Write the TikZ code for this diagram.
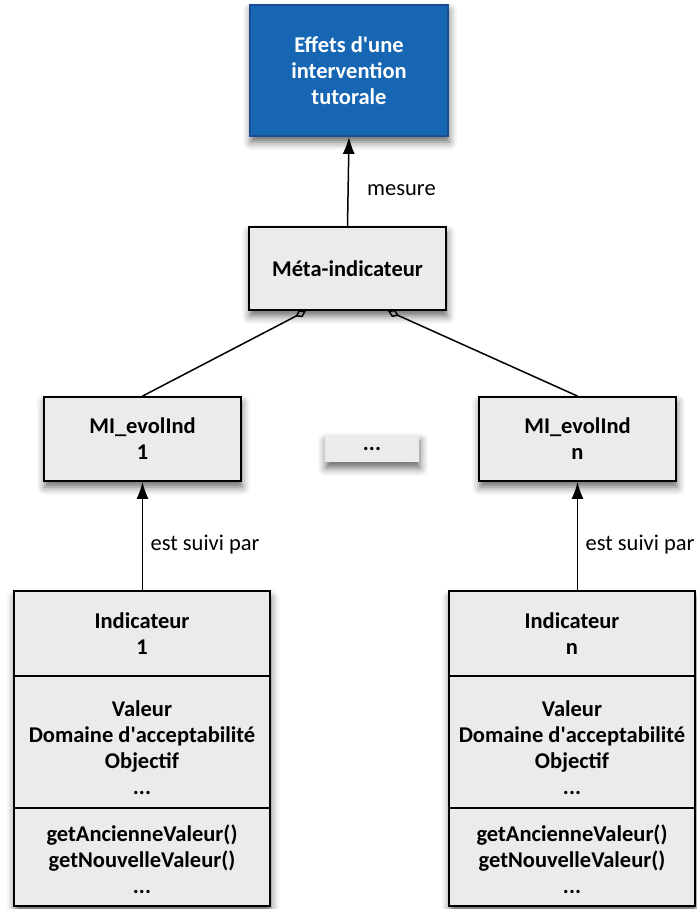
\documentclass[tikz,border=0pt]{standalone}
\usepackage{fontspec}
\setmainfont{Carlito}
\usetikzlibrary{arrows.meta}
\usetikzlibrary{positioning}
\usetikzlibrary{calc}
\usetikzlibrary{shadows.blur}
\definecolor{boxgray}{RGB}{235,235,235}
\definecolor{bleu}{RGB}{22,102,180}
\definecolor{bleufonce}{RGB}{28,76,145}
\newcommand{\taille}{\fontsize{22.5}{26}\selectfont}
\newcommand{\apo}{\textquotesingle}
\tikzset{classe/.style = {draw, fill = boxgray, line width = 1.8pt, font = \taille\bfseries,
                          align = center, inner sep = 0,
                          blur shadow = {shadow xshift = 1pt, shadow yshift = -6pt,
                                         shadow blur radius = 8pt, shadow opacity = 60}}}
\tikzset{part/.style = {draw, line width = 1.8pt, font = \taille\bfseries, align = center,
                        inner sep = 0, outer sep = 0, minimum width = #1}}
\tikzset{texte/.style = {font = \taille\bfseries, align = center, inner sep = 0}}
\tikzset{lien/.style = {line width = 1.5pt, -{Latex[length = 17pt, width = 12pt]}}}
\tikzset{agreg/.style = {line width = 1.5pt, {Diamond[open, length = 12pt, width = 8pt]}-}}

\begin{document}
\begin{tikzpicture}[x = 1pt, y = -1pt, every node/.style = {font = \taille}]
        \useasboundingbox (0, 0) rectangle (696, 909);

        \node [classe, fill = bleu, draw = bleufonce, text = white, minimum width = 198, minimum height = 131]
              (effets) at (349, 70.5) {Effets d\apo une\\intervention\\tutorale};
        \node [classe, minimum width = 197, minimum height = 83] (meta) at (347.5, 268.5) {Méta-indicateur};
        \node [classe, minimum width = 197, minimum height = 84] (mi1) at (142.5, 439) {MI\_evolInd\\1};
        \node [classe, minimum width = 197, minimum height = 84] (min) at (577.5, 439) {MI\_evolInd\\n};
        \node [classe, draw = none, minimum width = 94, minimum height = 27] (etc) at (372, 448.5) {...};

        % indicateur 1
        \node [classe, draw = none, minimum width = 256, minimum height = 315] (ind1) at (142, 749.5) {};
        \node [part = 256, anchor = north, minimum height = 85] (ind1a) at (ind1.north) {Indicateur\\1};
        \node [part = 256, below = 0pt of ind1a, minimum height = 132] (ind1b) {};
        \node [part = 256, below = 0pt of ind1b, minimum height = 98] (ind1c) {};
        \node [texte] (ind1bt) at ([yshift = -6pt] ind1b.center) {Valeur\\Domaine d\apo acceptabilité\\Objectif\\...};
        \node [texte] (ind1ct) at ([yshift = -2pt] ind1c.center) {getAncienneValeur()\\getNouvelleValeur()\\...};

        % indicateur n
        \node [classe, draw = none, minimum width = 246, minimum height = 315] (indn) at (572, 749.5) {};
        \node [part = 246, anchor = north, minimum height = 85] (indna) at (indn.north) {Indicateur\\n};
        \node [part = 246, below = 0pt of indna, minimum height = 132] (indnb) {};
        \node [part = 246, below = 0pt of indnb, minimum height = 98] (indnc) {};
        \node [texte] (indnbt) at ([yshift = -6pt] indnb.center) {Valeur\\Domaine d\apo acceptabilité\\Objectif\\...};
        \node [texte] (indnct) at ([yshift = -2pt] indnc.center) {getAncienneValeur()\\getNouvelleValeur()\\...};

        \draw [lien] (meta.north) -- (effets.south) node [pos = 0.4, right = 15pt] {mesure};
        \draw [agreg] ($(meta.south) + (-41.5, 0)$) -- (mi1.north);
        \draw [agreg] ($(meta.south) + (40.5, 0)$) -- (min.north);
        \draw [lien] (mi1.south |- ind1a.north) -- (mi1.south) node [pos = 0.43, right = 4pt] {est suivi par};
        \draw [lien] (min.south |- indna.north) -- (min.south) node [pos = 0.43, right = 4pt] {est suivi par};
\end{tikzpicture}
\end{document}
